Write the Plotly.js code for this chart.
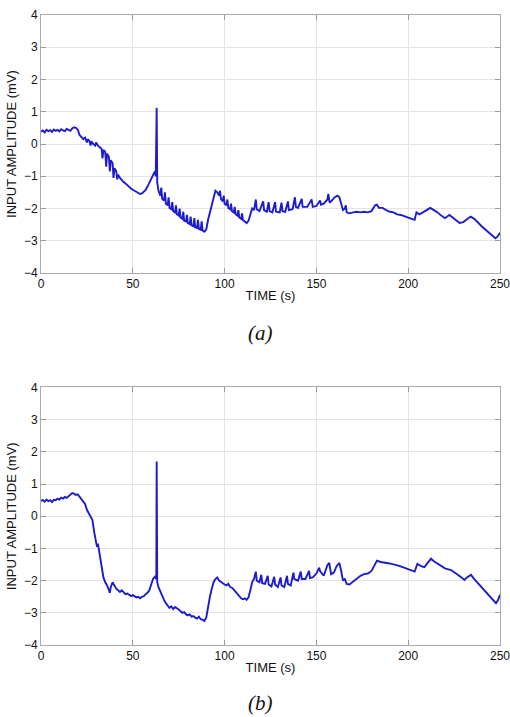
<!DOCTYPE html>
<html>
<head>
<meta charset="utf-8">
<script src="https://cdn.plot.ly/plotly-3.0.1.min.js"></script>
<style>html,body{margin:0;padding:0;background:#fff;}#chart{width:510px;height:717px;}</style>
</head>
<body>
<div id="chart"></div>
<script>
// Panel (a)
const timeA = [0,1,2,3,4,5,6,7,8,9,10,11,12,13,14,15,16,17,18,19,20,21,22,23,24,25,25.5,26.5,27,27.5,28.5,29.5,30,31,32,33,33.5,34,35,35.5,36,37,37.5,38,39,39.5,40,41,41.5,42,43,44,45,46,47,48,49,50,51,52,53,54,55,56,57,58,59,60,61,62,62.5,63,63.3,64,65,65.5,66,67,67.5,68,69,69.5,70,71,71.5,72,73,73.5,74,75,75.5,76,77,77.5,78,79,79.5,80,81,81.5,82,83,83.5,84,85,85.5,86,87,87.5,88,89,90,91,92,93,94,95,96,97,97.5,98,99,99.5,100,101,101.5,102,103,103.5,104,105,105.5,106,107,107.5,108,109,109.5,110,111,112,113,114,115,116,117,117.5,119,121,121.5,123,124,124.5,126,127.5,128,130,131,131.5,133,134.5,135,137,138.3,138.8,140,142,142.5,145,147.4,148,150,152,152.5,154,156,156.5,157.2,158.5,160,161.5,162.5,163.5,164.5,165.5,166,166.5,168,170,172,174,176,178,180,182,183,184,186,188,190,192,194,196,198,200,202,203.5,204.5,206,208,210,212,214,216,218,220,222.4,224,226,228,230,232,234,236,238,240,242,244,246,247.5,248.5,250];
const ampA = [0.38,0.42,0.36,0.44,0.40,0.43,0.37,0.45,0.41,0.44,0.39,0.46,0.42,0.40,0.47,0.43,0.41,0.48,0.52,0.50,0.45,0.28,0.22,0.15,0.20,0.05,0.15,0.08,-0.05,0.08,0.0,-0.05,0.05,-0.05,-0.10,-0.15,-0.45,-0.18,-0.25,-0.70,-0.30,-0.40,-0.85,-0.50,-0.60,-1.05,-0.75,-0.85,-1.10,-0.95,-1.05,-1.12,-1.18,-1.22,-1.28,-1.32,-1.38,-1.42,-1.45,-1.48,-1.52,-1.55,-1.53,-1.48,-1.42,-1.32,-1.20,-1.08,-0.95,-0.85,-1.00,1.12,-1.20,-1.45,-1.60,-1.35,-1.70,-1.75,-1.50,-1.85,-1.90,-1.65,-1.98,-2.02,-1.80,-2.08,-2.12,-1.90,-2.18,-2.22,-2.00,-2.28,-2.32,-2.10,-2.38,-2.40,-2.20,-2.45,-2.48,-2.25,-2.52,-2.55,-2.30,-2.58,-2.60,-2.35,-2.63,-2.66,-2.40,-2.68,-2.72,-2.65,-2.35,-2.10,-1.85,-1.62,-1.45,-1.50,-1.60,-1.45,-1.70,-1.78,-1.60,-1.85,-1.90,-1.72,-1.98,-2.02,-1.85,-2.08,-2.12,-1.95,-2.18,-2.22,-2.05,-2.28,-2.32,-2.15,-2.36,-2.40,-2.45,-2.38,-2.20,-2.00,-2.05,-1.72,-2.02,-2.08,-1.78,-2.05,-2.10,-1.80,-2.08,-2.12,-1.80,-2.10,-2.12,-1.82,-2.08,-2.10,-1.78,-2.05,-2.02,-1.65,-1.95,-1.98,-1.70,-1.95,-1.95,-1.72,-1.95,-1.92,-1.75,-1.88,-1.85,-1.72,-1.55,-1.82,-1.75,-1.65,-1.60,-1.65,-1.85,-2.05,-2.00,-1.90,-2.12,-2.15,-2.12,-2.10,-2.12,-2.10,-2.12,-2.08,-1.90,-1.88,-1.98,-1.98,-2.05,-2.10,-2.12,-2.18,-2.20,-2.25,-2.28,-2.32,-2.35,-2.12,-2.18,-2.12,-2.05,-1.98,-2.05,-2.12,-2.22,-2.30,-2.20,-2.28,-2.38,-2.45,-2.42,-2.32,-2.25,-2.32,-2.45,-2.55,-2.65,-2.75,-2.85,-2.92,-2.88,-2.75];

// Panel (b)
const timeB = [0,1,2,3,4,5,6,7,8,9,10,11,12,13,14,15,16,17,18,19,20,21,22,23,24,25,26,27,28,29,30,30.5,31,32,33,34,35,36,37,37.5,38,39,40,41,42,43,44,45,46,47,48,49,50,51,52,53,54,55,56,57,58,59,60,61,62,62.8,63,63.3,64,65,66,67,68,69,70,71,72,73,74,75,76,77,78,79,80,81,82,83,84,85,86,87,88,89,90,91,92,93,94,95,96,97,98,99,100,101,102,103,104,105,106,107,108,109,110,111,112,113,114,115,116,117,117.5,119,120,120.5,122,123.5,124,125.5,127,127.5,129,130.5,131,132.5,134,134.5,136,137.5,138,140,141.5,142,144,146,146.5,148,150,151.5,152,154,156,157,158,159.5,161,162.5,163.5,164.5,165.5,166.5,168,170,172,174,176,178,180,181,183,185,187,189,191,193,195,197,199,201.5,203.5,205,207,208.8,210.5,212.4,214,216,218,220,223.3,225,227,229,230.6,232,234.2,236,238,239.7,242,244,246,247.8,248.8,250];
const ampB = [0.48,0.50,0.45,0.52,0.47,0.50,0.44,0.51,0.50,0.55,0.52,0.58,0.55,0.60,0.57,0.62,0.68,0.72,0.70,0.66,0.68,0.60,0.52,0.45,0.38,0.20,0.10,0.0,-0.12,-0.50,-0.85,-0.95,-0.85,-1.25,-1.60,-1.90,-2.05,-2.15,-2.30,-2.38,-2.20,-2.05,-2.15,-2.25,-2.30,-2.35,-2.30,-2.38,-2.42,-2.40,-2.45,-2.48,-2.45,-2.50,-2.52,-2.50,-2.55,-2.50,-2.48,-2.42,-2.38,-2.30,-2.15,-1.95,-1.88,-1.95,1.70,-2.05,-2.20,-2.35,-2.45,-2.60,-2.70,-2.78,-2.85,-2.80,-2.88,-2.82,-2.85,-2.90,-2.95,-3.00,-2.98,-3.05,-3.08,-3.05,-3.12,-3.10,-3.15,-3.18,-3.12,-3.20,-3.22,-3.25,-3.15,-2.80,-2.50,-2.25,-2.05,-1.95,-1.90,-2.00,-2.05,-2.08,-2.12,-2.15,-2.10,-2.20,-2.22,-2.28,-2.35,-2.40,-2.48,-2.55,-2.58,-2.55,-2.60,-2.52,-2.30,-2.05,-1.95,-1.72,-2.00,-2.05,-1.82,-2.08,-2.10,-1.85,-2.12,-2.18,-1.88,-2.12,-2.20,-1.90,-2.15,-2.20,-1.85,-2.10,-2.15,-1.75,-1.95,-2.00,-1.72,-1.95,-1.95,-1.70,-1.92,-1.90,-1.78,-1.60,-1.70,-1.85,-1.52,-1.45,-1.80,-1.75,-1.55,-1.45,-1.70,-2.00,-1.95,-2.10,-2.12,-2.02,-1.92,-1.85,-1.80,-1.78,-1.70,-1.58,-1.38,-1.42,-1.43,-1.46,-1.48,-1.50,-1.54,-1.58,-1.62,-1.67,-1.72,-1.48,-1.55,-1.58,-1.45,-1.32,-1.40,-1.48,-1.55,-1.62,-1.67,-1.75,-1.82,-1.90,-1.98,-1.90,-1.82,-1.95,-2.08,-2.18,-2.32,-2.45,-2.60,-2.70,-2.62,-2.44];

const xTicks = [0, 50, 100, 150, 200, 250];
const yTicks = [-4, -3, -2, -1, 0, 1, 2, 3, 4];
const xTitle = 'TIME (s)';
const yTitle = 'INPUT AMPLITUDE (mV)';
const panelLabels = ['(a)', '(b)'];

const lineStyle = {color: 'rgb(28,28,205)', width: 1.9};
const traces = [
  {x: timeA, y: ampA, type: 'scatter', mode: 'lines', line: lineStyle, xaxis: 'x', yaxis: 'y', hoverinfo: 'skip'},
  {x: timeB, y: ampB, type: 'scatter', mode: 'lines', line: lineStyle, xaxis: 'x2', yaxis: 'y2', hoverinfo: 'skip'}
];

const tickFont = {family: 'Liberation Sans, Arial, sans-serif', size: 12, color: '#111'};
const titleFont = {family: 'Liberation Sans, Arial, sans-serif', size: 13, color: '#111'};
function xa(anchor) {
  return {
    domain: [0.0804, 0.9804], anchor: anchor, range: [0, 250], tickvals: xTicks,
    ticks: 'inside', ticklen: 5, tickcolor: '#999', showline: true, linecolor: '#aaa', linewidth: 1, mirror: 'ticks',
    showgrid: true, gridcolor: '#e4e4e4', gridwidth: 1, zeroline: false,
    tickfont: tickFont, automargin: false, ticklabeloverflow: 'allow',
    title: {text: xTitle, font: titleFont, standoff: 0}
  };
}
function ya(domain, anchor) {
  return {
    domain: domain, anchor: anchor, range: [-4, 4], tickvals: yTicks,
    ticks: 'inside', ticklen: 5, tickcolor: '#999', showline: true, linecolor: '#aaa', linewidth: 1, mirror: 'ticks',
    showgrid: true, gridcolor: '#e4e4e4', gridwidth: 1, zeroline: false,
    tickfont: tickFont, automargin: false, ticklabeloverflow: 'allow',
    title: {text: yTitle, font: titleFont, standoff: 4}
  };
}

const labelFont = {family: 'Liberation Serif, Times New Roman, serif', size: 21, color: '#111'};
const layout = {
  width: 510, height: 717,
  margin: {l: 0, r: 0, t: 0, b: 0},
  paper_bgcolor: '#fff', plot_bgcolor: '#fff',
  showlegend: false,
  xaxis: xa('y'),
  yaxis: ya([0.6192, 0.9791], 'x'),
  xaxis2: xa('y2'),
  yaxis2: ya([0.1004, 0.4596], 'x2'),
  annotations: [
    {text: '<i>' + panelLabels[0] + '</i>', xref: 'paper', yref: 'paper', x: 0.51, y: 1 - 333/717, showarrow: false,
     font: labelFont, xanchor: 'center', yanchor: 'middle'},
    {text: '<i>' + panelLabels[1] + '</i>', xref: 'paper', yref: 'paper', x: 0.51, y: 1 - 703/717, showarrow: false,
     font: labelFont, xanchor: 'center', yanchor: 'middle'}
  ]
};

Plotly.newPlot('chart', traces, layout, {staticPlot: true, displayModeBar: false});
</script>
</body>
</html>
